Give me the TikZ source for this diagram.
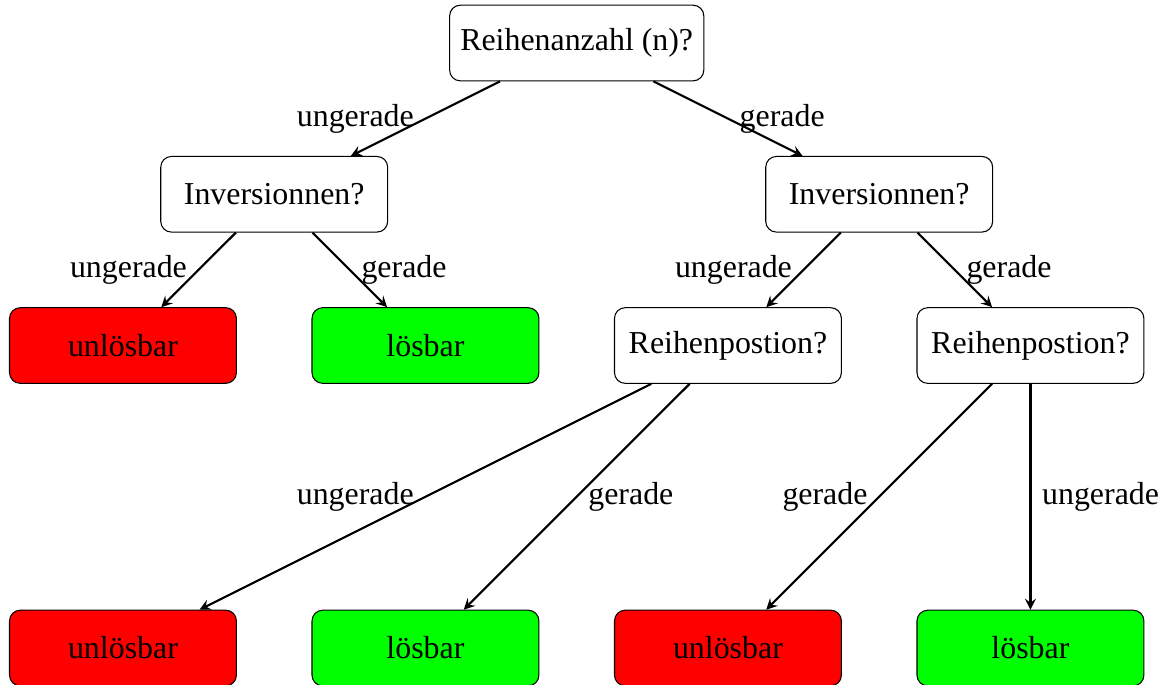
\documentclass[tikz,border=0pt,12pt]{standalone}
\usepackage{fontspec}
\setmainfont{Liberation Serif}
\usetikzlibrary{arrows,positioning}

\begin{document}
\begin{tikzpicture}[
    question/.style={rectangle, rounded corners, draw, minimum width=3cm, minimum height=1cm},
    loesbar/.style={question, fill=green},
    unloesbar/.style={question, fill=red},
    arrow/.style={->, >=stealth, thick}
]
\useasboundingbox (-1.626, 0.569) rectangle (13.766, -8.489);

% Reihenanzahl
\node[question] (rows) at (6, 0) {Reihenanzahl (n)?};

% Inversionen
\node[question] (invl) at (2, -2) {Inversionnen?};
\node[question] (invr) at (10, -2) {Inversionnen?};

\draw[arrow] (rows) -- (invl) node[midway, left] {ungerade};
\draw[arrow] (rows) -- (invr) node[midway, right] {gerade};

% Zeile 3
\node[unloesbar] (u1) at (0, -4) {unlösbar};
\node[loesbar] (l1) at (4, -4) {lösbar};
\node[question] (posl) at (8, -4) {Reihenpostion?};
\node[question] (posr) at (12, -4) {Reihenpostion?};

\draw[arrow] (invl) -- (u1) node[midway, left] {ungerade};
\draw[arrow] (invl) -- (l1) node[midway, right] {gerade};
\draw[arrow] (invr) -- (posl) node[midway, left] {ungerade};
\draw[arrow] (invr) -- (posr) node[midway, right] {gerade};

% Reihenposition
\node[unloesbar] (u2) at (0, -8) {unlösbar};
\node[loesbar] (l2) at (4, -8) {lösbar};
\node[unloesbar] (u3) at (8, -8) {unlösbar};
\node[loesbar] (l3) at (12, -8) {lösbar};

\draw[arrow] (posl) -- (u2) node[midway, left] {ungerade};
\draw[arrow] (posl) -- (l2) node[midway, right] {gerade};
\draw[arrow] (posr) -- (u3) node[midway, left] {gerade};
\draw[arrow] (posr) -- (l3) node[midway, right] {ungerade};

\end{tikzpicture}
\end{document}
